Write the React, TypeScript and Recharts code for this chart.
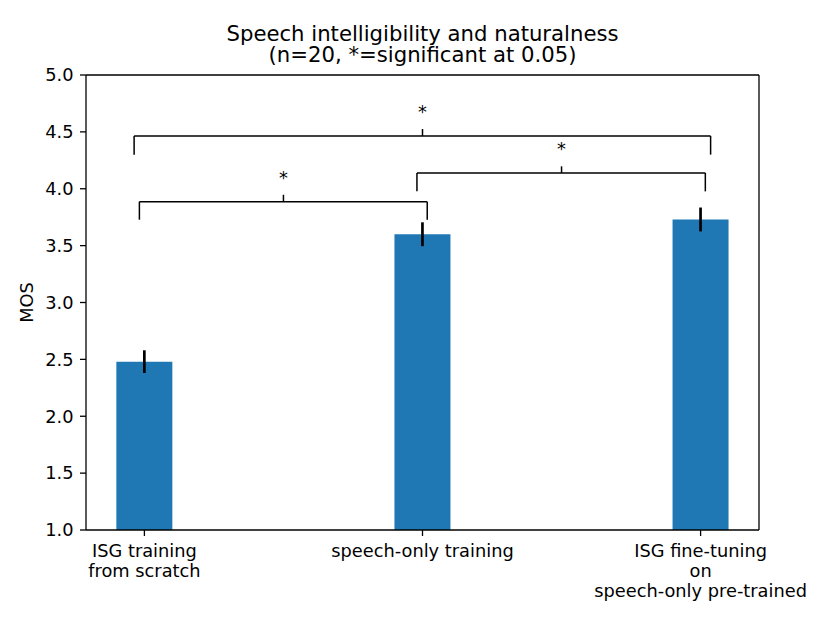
import React from 'react';
import {
  ComposedChart,
  Bar,
  XAxis,
  YAxis,
  ErrorBar,
  ReferenceLine,
  ReferenceDot,
} from 'recharts';

// ---- data ----
const categories = [
  'ISG training\nfrom scratch',
  'speech-only training',
  'ISG fine-tuning\non\nspeech-only pre-trained',
];
const positions = [0, 1, 2];
const mosValues = [2.48, 3.6, 3.73];
const mosErrors = [0.1, 0.105, 0.105];
const yTicks = [1.0, 1.5, 2.0, 2.5, 3.0, 3.5, 4.0, 4.5, 5.0];

// significance brackets (data units)
const bracketLeft = [-0.018, -0.037, 0.98];
const bracketRight = [1.017, 2.036, 2.017];
const bracketMid = [0.5, 1.0, 1.5];
const bracketTop = [3.886, 4.464, 4.139];
const bracketFoot = [3.728, 4.3, 3.977];
const bracketTickTop = [3.947, 4.525, 4.197];
const bracketStarY = [4.044, 4.623, 4.298];
const bracketLabels = ['*', '*', '*'];

const titleLines = ['Speech intelligibility and naturalness', '(n=20, *=significant at 0.05)'];
const yLabel = 'MOS';

const data = positions.map((x, i) => ({ x, mos: mosValues[i], err: mosErrors[i] }));

const FONT = 'DejaVu Sans';
const TICK_FS = 17.8;

const XTick = (props: any) => {
  const { x, y, payload } = props;
  const idx = positions.indexOf(payload.value);
  const lines = (categories[idx] ?? '').split('\n');
  return (
    <text x={x} y={y} textAnchor="middle" fontFamily={FONT} fontSize={TICK_FS} fill="#000">
      {lines.map((l, i) => (
        <tspan key={i} x={x} dy={i === 0 ? 21 : 20}>
          {l}
        </tspan>
      ))}
    </text>
  );
};

export default function App() {
  const lineStyle = { stroke: '#000', strokeWidth: 1.5 };
  return (
    <div style={{ position: 'absolute', left: 0, top: 0, width: 830, height: 623, background: '#fff' }}>
      <ComposedChart
        width={830}
        height={623}
        data={data}
        margin={{ top: 75, right: 71, bottom: 0, left: 0 }}
      >
        <XAxis
          type="number"
          dataKey="x"
          domain={[-0.21, 2.21]}
          allowDataOverflow
          ticks={positions}
          height={93}
          tickSize={6}
          tickMargin={0}
          interval={0}
          axisLine={{ stroke: '#000', strokeWidth: 1.3 }}
          tickLine={{ stroke: '#000', strokeWidth: 1.3 }}
          tick={<XTick />}
        />
        <YAxis
          type="number"
          domain={[1, 5]}
          allowDataOverflow
          ticks={yTicks}
          interval={0}
          width={86}
          tickSize={6}
          tickMargin={6.5}
          tickFormatter={(v: number) => v.toFixed(1)}
          axisLine={{ stroke: '#000', strokeWidth: 1.3 }}
          tickLine={{ stroke: '#000', strokeWidth: 1.3 }}
          tick={{ fill: '#000', fontSize: TICK_FS, fontFamily: FONT }}
        />
        <ReferenceLine y={5} stroke="#000" strokeWidth={1.3} />
        <ReferenceLine x={2.21} stroke="#000" strokeWidth={1.3} />
        <Bar dataKey="mos" fill="#1f77b4" barSize={56} isAnimationActive={false}>
          <ErrorBar dataKey="err" width={0} stroke="#000" strokeWidth={2.7} direction="y" />
        </Bar>
        {bracketLeft.map((l, i) => (
          <ReferenceLine
            key={`h${i}`}
            segment={[{ x: l, y: bracketTop[i] }, { x: bracketRight[i], y: bracketTop[i] }]}
            {...lineStyle}
          />
        ))}
        {bracketLeft.map((l, i) => (
          <ReferenceLine
            key={`l${i}`}
            segment={[{ x: l, y: bracketFoot[i] }, { x: l, y: bracketTop[i] }]}
            {...lineStyle}
          />
        ))}
        {bracketRight.map((r, i) => (
          <ReferenceLine
            key={`r${i}`}
            segment={[{ x: r, y: bracketFoot[i] }, { x: r, y: bracketTop[i] }]}
            {...lineStyle}
          />
        ))}
        {bracketMid.map((m, i) => (
          <ReferenceLine
            key={`m${i}`}
            segment={[{ x: m, y: bracketTop[i] }, { x: m, y: bracketTickTop[i] }]}
            {...lineStyle}
          />
        ))}
        {bracketMid.map((m, i) => (
          <ReferenceDot
            key={`s${i}`}
            x={m}
            y={bracketStarY[i]}
            r={0}
            shape={(p: any) => (
              <text x={p.cx} y={p.cy} textAnchor="middle" fontFamily={FONT} fontSize={TICK_FS} fill="#000">
                {bracketLabels[i]}
              </text>
            )}
          />
        ))}
      </ComposedChart>
      <svg
        width={830}
        height={623}
        style={{ position: 'absolute', left: 0, top: 0, pointerEvents: 'none' }}
      >
        <text x={422.5} y={41} textAnchor="middle" fontFamily={FONT} fontSize={21.2} fill="#000">
          {titleLines[0]}
        </text>
        <text x={422.5} y={62} textAnchor="middle" fontFamily={FONT} fontSize={21.2} fill="#000">
          {titleLines[1]}
        </text>
        <text
          x={33}
          y={302.5}
          textAnchor="middle"
          fontFamily={FONT}
          fontSize={TICK_FS}
          fill="#000"
          transform="rotate(-90 33 302.5)"
        >
          {yLabel}
        </text>
      </svg>
    </div>
  );
}
